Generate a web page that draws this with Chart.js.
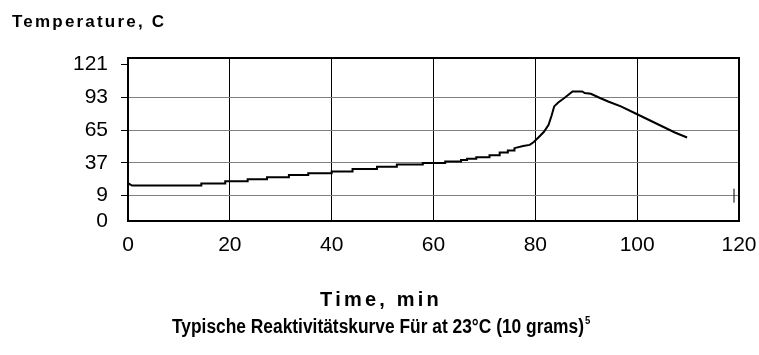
<!DOCTYPE html>
<html>
<head>
<meta charset="utf-8">
<script src="https://cdn.jsdelivr.net/npm/chart.js@4.4.1/dist/chart.umd.min.js"></script>
<style>
  html, body { margin: 0; padding: 0; background: #fff; }
  #wrap { position: relative; width: 759px; height: 355px; }
</style>
</head>
<body>
<div id="wrap"><canvas id="tempChart"></canvas></div>
<script>
// values (time in min, temperature in C)
const timeMin = [
  0, 0.8, 14.4, 14.4, 19.1, 19.1, 23.5, 23.5, 27.3, 27.3, 31.6, 31.6,
  35.4, 35.4, 40, 40, 44.1, 44.1, 48.9, 48.9, 52.8, 52.8, 57.9, 57.9,
  62.3, 62.3, 65.4, 65.4, 66.6, 66.6, 68.4, 68.4, 71.0, 71.0, 73.0, 73.0,
  74.6, 74.6, 75.9, 75.9, 77.6, 78.9, 79.7, 80.8, 81.7, 82.6, 83.2, 83.7,
  84.5, 85.7, 86.5, 87.3, 89.2, 89.7, 90.9, 92.7, 94.3, 96.8, 99.8, 107.4, 109.8,
];
const tempC = [
  19.6, 17.6, 17.6, 19.3, 19.3, 21.2, 21.2, 23.1, 23.1, 24.8, 24.8, 26.7,
  26.7, 28.2, 28.2, 29.6, 29.6, 31.8, 31.8, 33.6, 33.6, 35.6, 35.6, 36.8,
  36.8, 38.1, 38.1, 39.4, 39.4, 40.6, 40.6, 41.8, 41.8, 43.6, 43.6, 45.8,
  45.8, 47.6, 47.6, 49.6, 51.5, 52.4, 54.8, 59.6, 63.6, 69.6, 77.5, 85.3,
  88.7, 92.5, 95.3, 98.1, 98.1, 96.7, 96.1, 92.5, 89.5, 85.3, 79.0, 63.0, 58.7,
];

const xTicks = [0, 20, 40, 60, 80, 100, 120];
// the bottom of the axis is labelled 0 although the grid steps by 28 from 9
const yMin = -12.7;
const yMax = 126.7;
const yTickValues = [yMin, 9, 37, 65, 93, 121];
const yTickLabels = ['0', '9', '37', '65', '93', '121'];

const tickFont = { family: 'Liberation Sans, Arial, sans-serif', size: 21 };

// frame round the plot area plus the page texts
const frameAndTexts = {
  id: 'frameAndTexts',
  afterDraw(chart) {
    const { ctx, chartArea: a } = chart;
    const yScale = chart.scales.y;
    ctx.save();
    ctx.strokeStyle = '#000';
    ctx.lineWidth = 2;
    ctx.strokeRect(a.left, a.top, a.right - a.left, a.bottom - a.top);

    // small end mark on the 9 line
    const y9 = yScale.getPixelForValue(9);
    ctx.lineWidth = 1;
    ctx.beginPath();
    ctx.moveTo(a.right - 5, y9 - 7);
    ctx.lineTo(a.right - 5, y9 + 7);
    ctx.stroke();

    ctx.fillStyle = '#000';
    ctx.textBaseline = 'alphabetic';

    ctx.font = 'bold 17px Liberation Sans, Arial, sans-serif';
    ctx.letterSpacing = '2.2px';
    ctx.textAlign = 'left';
    ctx.fillText('Temperature, C', 12, 27);

    ctx.font = 'bold 20px Liberation Sans, Arial, sans-serif';
    ctx.letterSpacing = '3.2px';
    ctx.textAlign = 'center';
    ctx.fillText('Time, min', 381, 306);

    // condensed look: bold sans squeezed sideways
    ctx.letterSpacing = '0px';
    ctx.textAlign = 'left';
    ctx.font = 'bold 20px Liberation Sans, Arial, sans-serif';
    const sub = 'Typische Reaktivitätskurve Für at 23°C (10 grams)';
    const sx = 412 / ctx.measureText(sub).width;
    ctx.save();
    ctx.translate(172, 333);
    ctx.scale(sx, 1);
    ctx.fillText(sub, 0, 0);
    ctx.restore();
    ctx.font = 'bold 11px Liberation Sans, Arial, sans-serif';
    ctx.save();
    ctx.translate(172 + 413, 324);
    ctx.scale(sx, 1);
    ctx.fillText('5', 0, 0);
    ctx.restore();
    ctx.restore();
  },
};

const ctx = document.getElementById('tempChart').getContext('2d');
// eslint-disable-next-line no-unused-vars
const tempChart = new Chart(ctx, {
  type: 'line',
  data: {
    datasets: [{
      label: 'Temperature',
      data: timeMin.map((t, i) => ({ x: t, y: tempC[i] })),
      borderColor: '#000',
      borderWidth: 2,
      pointRadius: 0,
      tension: 0,
      fill: false,
    }],
  },
  options: {
    responsive: true,
    maintainAspectRatio: false,
    animation: false,
    layout: { autoPadding: false, padding: { top: 58, right: 20, left: 0, bottom: 0 } },
    plugins: {
      legend: { display: false },
      tooltip: { enabled: false },
    },
    scales: {
      x: {
        type: 'linear',
        min: 0,
        max: 120,
        afterBuildTicks: (scale) => { scale.ticks = xTicks.map((v) => ({ value: v })); },
        afterFit: (scale) => {
          scale.height = 134;
          scale.paddingLeft = 0;
          scale.paddingRight = 0;
        },
        border: { display: false },
        grid: { color: '#000', lineWidth: 1, drawTicks: false },
        ticks: { color: '#000', font: tickFont, padding: 12, maxRotation: 0, autoSkip: false },
      },
      y: {
        type: 'linear',
        min: yMin,
        max: yMax,
        afterBuildTicks: (scale) => { scale.ticks = yTickValues.map((v) => ({ value: v })); },
        afterFit: (scale) => { scale.width = 128; },
        border: { display: false },
        grid: {
          lineWidth: 1,
          tickLength: 7,
          color: (c) => (c.tick && c.tick.value > 0 && c.tick.value < 100 ? '#808080' : 'rgba(0,0,0,0)'),
          tickColor: (c) => (c.tick && c.tick.value > 0 ? '#000' : 'rgba(0,0,0,0)'),
        },
        ticks: {
          color: '#000',
          font: tickFont,
          padding: 13,
          autoSkip: false,
          callback: (value, index) => yTickLabels[index],
        },
      },
    },
  },
  plugins: [frameAndTexts],
});
</script>
</body>
</html>
